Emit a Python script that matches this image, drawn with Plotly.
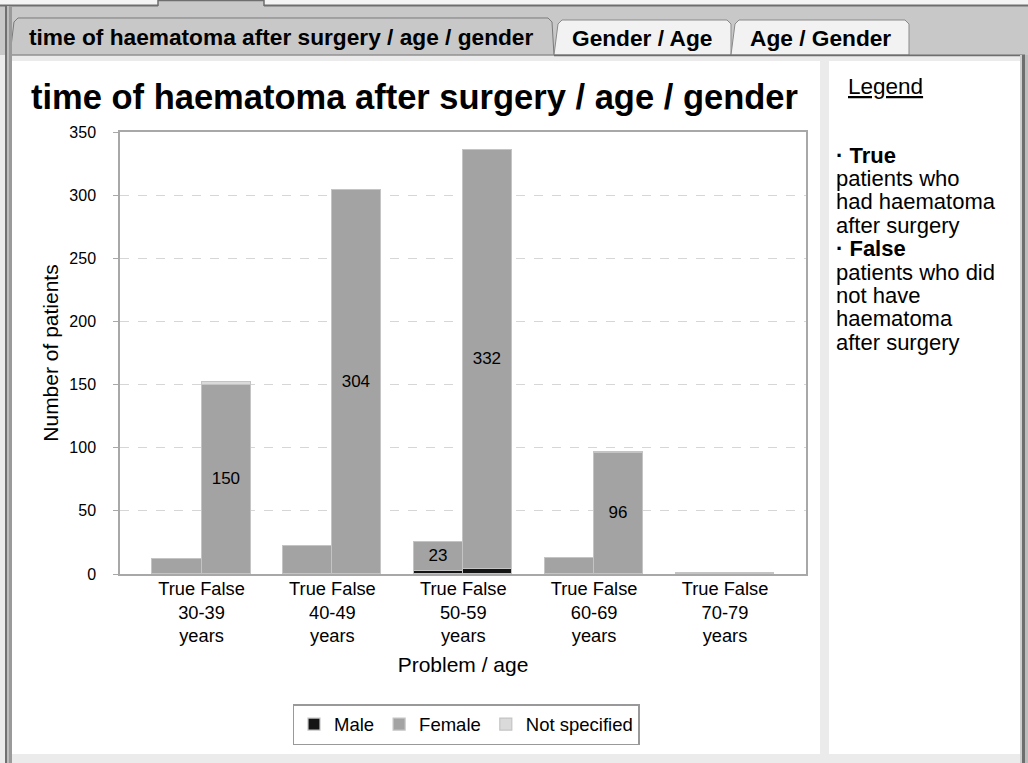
import plotly.graph_objects as go

# ---------------- data ----------------
age_groups = ["30-39", "40-49", "50-59", "60-69", "70-79"]
problems = ["True", "False"]
male_true = [0, 0, 2, 0, 0]
male_false = [0, 0, 4, 0, 0]
female_true = [12, 22, 23, 13, 1]
female_false = [150, 304, 332, 96, 1]
notspec_true = [0, 0, 0, 0, 0]
notspec_false = [2, 0, 0, 1, 0]
female_true_labels = ["", "", "23", "", ""]
female_false_labels = ["150", "304", "332", "96", ""]
y_ticks = [0, 50, 100, 150, 200, 250, 300, 350]

FONT = "Liberation Sans, Arial, sans-serif"
W, H = 1028, 763
PL, PT, PW, PH = 120, 132, 686, 442


def px(x):
    return (x - PL) / PW


def py(y):
    return (PT + PH - y) / PH


def path(points):
    return "M " + " L ".join(f"{px(a):.5f},{py(b):.5f}" for a, b in points) + " Z"


half = 0.1875
bw = 0.375
x_true = [i - half for i in range(len(age_groups))]
x_false = [i + half for i in range(len(age_groups))]
xs = x_true + x_false

bar_line = dict(color="#c4c4c4", width=1.2)

fig = go.Figure()
fig.add_trace(go.Bar(
    name="Male", x=xs, y=male_true + male_false, width=bw,
    marker=dict(color="#151515", line=bar_line),
))
fig.add_trace(go.Bar(
    name="Female", x=xs, y=female_true + female_false, width=bw,
    marker=dict(color="#a3a3a3", line=bar_line),
    text=female_true_labels + female_false_labels,
    textposition="inside", insidetextanchor="middle", textangle=0,
    constraintext="none",
    textfont=dict(family=FONT, size=17, color="#000000"),
))
fig.add_trace(go.Bar(
    name="Not specified", x=xs, y=notspec_true + notspec_false, width=bw,
    marker=dict(color="#dadada", line=bar_line),
))

ticktext = [f"True False<br>{a}<br>years" for a in age_groups]

shapes = []


def rect(x0, y0, x1, y1, fill, line=None, lw=0):
    shapes.append(dict(type="rect", xref="paper", yref="paper", layer="below",
                       x0=px(x0), x1=px(x1), y0=py(y0), y1=py(y1),
                       fillcolor=fill, line=dict(width=lw, color=line or fill)))


def seg(x0, y0, x1, y1, color, lw=1):
    shapes.append(dict(type="line", xref="paper", yref="paper", layer="below",
                       x0=px(x0), x1=px(x1), y0=py(y0), y1=py(y1),
                       line=dict(color=color, width=lw)))


def poly(points, fill, line, lw=1):
    shapes.append(dict(type="path", xref="paper", yref="paper", layer="below",
                       path=path(points), fillcolor=fill,
                       line=dict(color=line, width=lw)))


# frame decoration
rect(0, 0, W, 6, "#f4f4f4")
rect(0, 6, W, 55, "#c8c8c8")
rect(158, 0, 264, 6, "#c8c8c8")
seg(0, 5.5, 158, 5.5, "#6e6e6e", 2)
seg(264, 5.5, W, 5.5, "#6e6e6e", 2)
seg(158, 0.5, 264, 0.5, "#6e6e6e", 1.5)
seg(158, 0, 158, 6, "#6e6e6e", 1.5)
seg(264, 0, 264, 6, "#6e6e6e", 1.5)
# tabs
poly([(10, 55), (14, 22), (18, 18), (548, 18), (552, 22), (554, 55)], "#c8c8c8", "#7a7a7a", 1)
poly([(554, 55), (558, 24), (562, 20), (727, 20), (731, 24), (731, 55)], "#f2f2f2", "#8a8a8a", 1)
poly([(731, 55), (735, 24), (739, 20), (905, 20), (909, 24), (909, 55)], "#f2f2f2", "#8a8a8a", 1)
seg(554, 55.5, 1025, 55.5, "#6e6e6e", 2)
seg(5, 55.5, 12, 55.5, "#6e6e6e", 2)
seg(12, 55.5, 554, 55.5, "#a8a8a8", 1)
# content panels
rect(12, 56.5, 1022, H, "#ebebeb")
rect(12, 61, 820, 754, "#ffffff")
rect(829, 61, 1020, 754, "#ffffff")
# side borders
rect(5, 6, 7, H, "#707070")
rect(7, 6, 9, H, "#bdbdbd")
rect(9, 6, 12, H, "#9a9a9a")
rect(1020, 55, 1022, H, "#cfcfcf")
rect(1022, 55, 1025, H, "#6e6e6e")
rect(1025, 55, W, H, "#bdbdbd")

annotations = []


def text(x, y, s, size, bold=False, anchor="left", color="#000000"):
    annotations.append(dict(
        xref="paper", yref="paper", x=px(x), y=py(y), xanchor=anchor, yanchor="middle",
        text=(f"<b>{s}</b>" if bold else s), showarrow=False,
        font=dict(family=FONT, size=size, color=color)))


text(281, 37, "time of haematoma after surgery / age / gender", 22.7, True, "center")
text(642, 38, "Gender / Age", 22.7, True, "center")
text(820, 38, "Age / Gender", 22.7, True, "center")

text(846, 87, "<u>Legend</u>", 22.5)
side_lines = [("· True", True), ("patients who", False), ("had haematoma", False),
              ("after surgery", False), ("· False", True), ("patients who did", False),
              ("not have", False), ("haematoma", False), ("after surgery", False)]
for k, (s, b) in enumerate(side_lines):
    text(834, 155 + k * 23.4, s, 22, b)

fig.update_layout(
    width=W, height=H,
    margin=dict(l=PL, r=W - PL - PW, t=PT, b=H - PT - PH, autoexpand=False),
    paper_bgcolor="#ebebeb",
    plot_bgcolor="rgba(0,0,0,0)",
    barmode="stack",
    bargap=0,
    font=dict(family=FONT, color="#000000"),
    title=dict(text="<b>time of haematoma after surgery / age / gender</b>",
               x=31 / W, xref="container", xanchor="left",
               y=1 - 97 / H, yref="container", yanchor="middle",
               font=dict(family=FONT, size=34.5, color="#000000")),
    xaxis=dict(range=[-0.623, 4.619], tickvals=list(range(len(age_groups))),
               ticktext=ticktext, showgrid=False, zeroline=False,
               showline=True, linecolor="#a8a8a8", linewidth=1.5, mirror=True,
               ticks="", ticklabelstandoff=-3,
               tickfont=dict(family=FONT, size=18.3, color="#000000"),
               title=dict(text="Problem / age", standoff=12,
                          font=dict(family=FONT, size=21, color="#000000"))),
    yaxis=dict(range=[0, 350], tickvals=y_ticks, showgrid=True,
               gridcolor="#d6d6d6", griddash="dash", gridwidth=1, zeroline=False,
               showline=True, linecolor="#a8a8a8", linewidth=1.5, mirror=True,
               ticks="outside", ticklen=5, tickcolor="#a8a8a8", ticklabelstandoff=14,
               tickfont=dict(family=FONT, size=16, color="#000000"),
               title=dict(text="Number of patients", standoff=5,
                          font=dict(family=FONT, size=21, color="#000000"))),
    legend=dict(orientation="h", x=px(466), xanchor="center", y=py(704), yanchor="top",
                bordercolor="#999999", borderwidth=1.5, bgcolor="#ffffff",
                font=dict(family=FONT, size=18.5, color="#000000"),
                traceorder="normal"),
    shapes=shapes,
    annotations=annotations,
)

fig.write_html("out.html", config={"displayModeBar": False},
               post_script="document.body.style.margin='0';document.body.style.padding='0';")
